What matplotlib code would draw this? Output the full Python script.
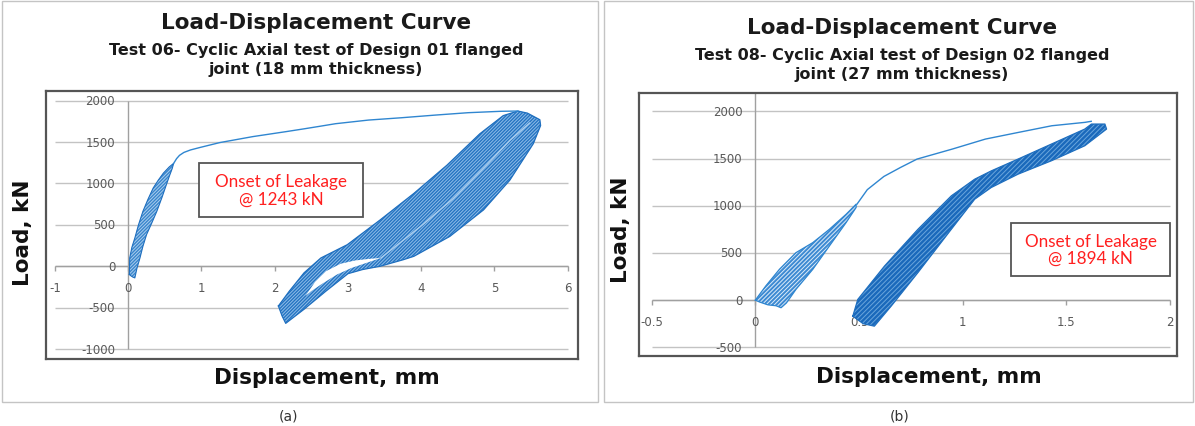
import matplotlib
matplotlib.use("Agg")
import matplotlib.pyplot as plt
from matplotlib.patches import Rectangle

# ---------------- data ----------------
titles = ["Load-Displacement Curve", "Load-Displacement Curve"]
subtitles = ["Test 06- Cyclic Axial test of Design 01 flanged\njoint (18 mm thickness)",
             "Test 08- Cyclic Axial test of Design 02 flanged\njoint (27 mm thickness)"]
x_label = "Displacement, mm"
y_label = "Load, kN"
notes = ["Onset of Leakage\n@ 1243 kN", "Onset of Leakage\n@ 1894 kN"]
captions = ["(a)", "(b)"]

# panel (a)
a_xticks = [-1, 0, 1, 2, 3, 4, 5, 6]
a_xtick_labels = ["-1", "0", "1", "2", "3", "4", "5", "6"]
a_yticks = [-1000, -500, 0, 500, 1000, 1500, 2000]
a_ytick_labels = ["-1000", "-500", "0", "500", "1000", "1500", "2000"]

# first loading / envelope curve after leakage
a_env_x = [0.62, 0.66, 0.70, 0.76, 0.85, 0.98, 1.25, 1.70, 2.16, 2.40, 2.61, 2.83, 3.28, 3.73, 4.19, 4.64, 5.09, 5.32]
a_env_y = [1243, 1300, 1340, 1375, 1405, 1435, 1494, 1566, 1627, 1660, 1690, 1722, 1766, 1794, 1826, 1855, 1872, 1875]
# small cycles before leakage (outline of the loop bundle)
a_leaf_x = [0.015, 0.02, 0.05, 0.09, 0.14, 0.20, 0.27, 0.34, 0.41, 0.48, 0.56, 0.62,
            0.60, 0.56, 0.52, 0.46, 0.39, 0.32, 0.25, 0.20, 0.16, 0.12, 0.09, 0.06, 0.035]
a_leaf_y = [-100, 100, 230, 341, 500, 663, 810, 944, 1040, 1125, 1200, 1243,
            1180, 1085, 984, 830, 663, 520, 382, 240, 100, -20, -141, -130, -115]
# large cycles after leakage (outline of the loop bundle)
a_band_top_x = [2.05, 2.20, 2.40, 2.63, 2.99, 3.44, 3.90, 4.35, 4.80, 5.12, 5.32, 5.45, 5.62]
a_band_top_y = [-480, -300, -80, 100, 260, 560, 880, 1220, 1600, 1820, 1875, 1850, 1770]
a_band_bot_x = [5.63, 5.53, 5.21, 4.85, 4.39, 3.90, 3.76, 3.44, 3.20, 3.00, 2.70, 2.40, 2.15, 2.10]
a_band_bot_y = [1700, 1480, 1040, 680, 360, 120, 80, 0, -40, -90, -300, -520, -690, -600]
# white gap between the two strands of the large cycles
a_gap_x = [2.42, 2.55, 2.70, 2.90, 3.10, 3.30, 3.45, 3.25, 3.05, 2.85, 2.65, 2.50]
a_gap_y = [-360, -190, -60, 30, 70, 90, 100, 40, -20, -100, -210, -300]
a_seam_x = [3.45, 3.99, 4.44, 4.89, 5.21, 5.48]
a_seam_y = [100, 480, 820, 1220, 1520, 1730]

# panel (b)
b_xticks = [-0.5, 0, 0.5, 1, 1.5, 2]
b_xtick_labels = ["-0.5", "0", "0.5", "1", "1.5", "2"]
b_yticks = [-500, 0, 500, 1000, 1500, 2000]
b_ytick_labels = ["-500", "0", "500", "1000", "1500", "2000"]

b_env_x = [0.49, 0.54, 0.62, 0.70, 0.78, 0.95, 1.11, 1.27, 1.43, 1.59, 1.62]
b_env_y = [1016, 1170, 1310, 1405, 1494, 1600, 1706, 1777, 1847, 1883, 1894]
b_fan_x = [0.0, 0.05, 0.116, 0.196, 0.277, 0.357, 0.438, 0.486,
           0.486, 0.438, 0.357, 0.277, 0.196, 0.15, 0.124, 0.10, 0.06, 0.02]
b_fan_y = [0, 149, 326, 503, 609, 750, 910, 1016,
           981, 822, 573, 326, 114, -30, -81, -60, -50, -20]
b_band_top_x = [0.47, 0.494, 0.623, 0.784, 0.945, 1.058, 1.138, 1.267, 1.428, 1.589, 1.621, 1.686]
b_band_top_y = [-170, 7, 361, 750, 1104, 1281, 1369, 1494, 1653, 1812, 1865, 1865]
b_band_bot_x = [1.694, 1.589, 1.428, 1.267, 1.138, 1.058, 0.945, 0.784, 0.655, 0.574, 0.52]
b_band_bot_y = [1812, 1635, 1476, 1334, 1193, 1069, 750, 291, -64, -276, -250]

# ---------------- figure ----------------
W, H = 1195, 427
fig = plt.figure(figsize=(W / 100, H / 100), dpi=100)
fig.patch.set_facecolor("white")
plt.rcParams["hatch.linewidth"] = 0.7

LINE = "#2f86d0"
BAND = "#1f6fbf"
GRID = "#c3c3c3"
AXC = "#a0a0a0"
TXT = "#595959"


def fx(px):
    return px / W


def fy(py):
    return 1 - py / H


def closed(xs, ys):
    return list(xs) + [xs[0]], list(ys) + [ys[0]]


def make_axes(left, top, right, bottom, xlim, ylim):
    ax = fig.add_axes([fx(left), fy(bottom), fx(right) - fx(left), fy(top) - fy(bottom)])
    ax.set_xlim(*xlim)
    ax.set_ylim(*ylim)
    ax.set_xticks([])
    ax.set_yticks([])
    for s in ax.spines.values():
        s.set_color("#555555")
        s.set_linewidth(1.6)
    return ax


def axis_furniture(ax, xticks, xlabels, yticks, ylabels, yaxis_top, tick_len):
    ax.hlines(yticks, xticks[0], xticks[-1], color=GRID, lw=1.0, zorder=1)
    ax.vlines(0, yticks[0], yaxis_top, color=AXC, lw=1.0, zorder=1)
    ax.hlines(0, xticks[0], xticks[-1], color=AXC, lw=1.0, zorder=1)
    ax.vlines(xticks, 0, -tick_len, color=AXC, lw=1.0, zorder=1)
    for v, lab in zip(yticks, ylabels):
        ax.annotate(lab, xy=(0, v), xytext=(-13, 0), textcoords="offset pixels",
                    ha="right", va="center", fontsize=8.5, color=TXT, zorder=2)
    for v, lab in zip(xticks, xlabels):
        ax.annotate(lab, xy=(v, 0), xytext=(0, -21), textcoords="offset pixels",
                    ha="center", va="center", fontsize=8.5, color=TXT, zorder=2)


def note_box(ax, x0, y0, x1, y1, text):
    ax.add_patch(Rectangle((x0, y0), x1 - x0, y1 - y0, transform=ax.transAxes,
                           facecolor="white", edgecolor="#555555", lw=1.3, zorder=6))
    ax.text((x0 + x1) / 2, (y0 + y1) / 2, text, transform=ax.transAxes, ha="center",
            va="center", color="#ff2020", fontsize=12.3, family="Lato",
            linespacing=1.1, zorder=7)


# outer panel frames
for l, r in [(2, 598), (604, 1193)]:
    fig.patches.append(Rectangle((fx(l), fy(403)), fx(r) - fx(l), fy(2) - fy(403),
                                 transform=fig.transFigure, facecolor="none",
                                 edgecolor="#c4c4c4", lw=1.0))

# ---------------- panel (a) ----------------
axa = make_axes(46, 91.7, 578.3, 360, (-1.1229, 6.1447), (-1120.8, 2120.8))
axis_furniture(axa, a_xticks, a_xtick_labels, a_yticks, a_ytick_labels, 2000, 55)

lx, ly = closed(a_leaf_x, a_leaf_y)
axa.fill(lx, ly, facecolor="#3a86cc", edgecolor="#a9cdee", hatch="/" * 10, lw=0, zorder=3)
axa.plot(lx, ly, color=BAND, lw=0.8, zorder=3)

bx = a_band_top_x + a_band_bot_x
by = a_band_top_y + a_band_bot_y
bx, by = closed(bx, by)
axa.fill(bx, by, facecolor="#2574c2", edgecolor="#8ebde8", hatch="/" * 10, lw=0, zorder=3)
axa.plot(bx, by, color=BAND, lw=0.9, zorder=3)
gx, gy = closed(a_gap_x, a_gap_y)
axa.fill(gx, gy, facecolor="white", edgecolor="none", lw=0, zorder=4)
axa.plot(a_seam_x, a_seam_y, color="#a8cdef", lw=1.0, zorder=4)
axa.plot(a_env_x, a_env_y, color=LINE, lw=1.0, zorder=4)

note_box(axa, 0.2874, 0.5292, 0.5955, 0.7305, notes[0])

# ---------------- panel (b) ----------------
axb = make_axes(639.3, 94, 1176.7, 357.3, (-0.5598, 2.0323), (-595.3, 2193.9))
axis_furniture(axb, b_xticks, b_xtick_labels, b_yticks, b_ytick_labels, 2193.9, 53)

fxs, fys = closed(b_fan_x, b_fan_y)
axb.fill(fxs, fys, facecolor="#3d8ad2", edgecolor="#dcebf9", hatch="/" * 8, lw=0, zorder=3)
axb.plot(fxs, fys, color=LINE, lw=0.9, zorder=3)

bx = b_band_top_x + b_band_bot_x
by = b_band_top_y + b_band_bot_y
bx, by = closed(bx, by)
axb.fill(bx, by, facecolor="#1a69bb", edgecolor="#6aa6dd", hatch="/" * 7, lw=0, zorder=3)
axb.plot(bx, by, color=BAND, lw=0.9, zorder=3)
axb.plot(b_env_x, b_env_y, color=LINE, lw=1.0, zorder=4)

note_box(axb, 0.6917, 0.3050, 0.9875, 0.5063, notes[1])

# ---------------- texts ----------------
for cx, ty, sy, sub, tit in [(316, 23, 60, subtitles[0], titles[0]),
                             (902, 28, 65, subtitles[1], titles[1])]:
    fig.text(fx(cx), fy(ty), tit, ha="center", va="center", fontsize=15.5,
             fontweight="bold", color="#1a1a1a")
    fig.text(fx(cx), fy(sy), sub, ha="center", va="center", fontsize=11.5,
             fontweight="bold", color="#1a1a1a", linespacing=1.4)

for cx, cy in [(23, 233), (621, 230)]:
    fig.text(fx(cx), fy(cy), y_label, rotation=90, ha="center", va="center",
             fontsize=15.5, fontweight="bold", color="#111111")
for cx, cy in [(327, 378), (929, 377)]:
    fig.text(fx(cx), fy(cy), x_label, ha="center", va="center",
             fontsize=15.5, fontweight="bold", color="#111111")
for cx, cap in [(288, captions[0]), (900, captions[1])]:
    fig.text(fx(cx), fy(417), cap, ha="center", va="center", fontsize=10,
             color="#333333")

fig.savefig("out.png", dpi=100)
